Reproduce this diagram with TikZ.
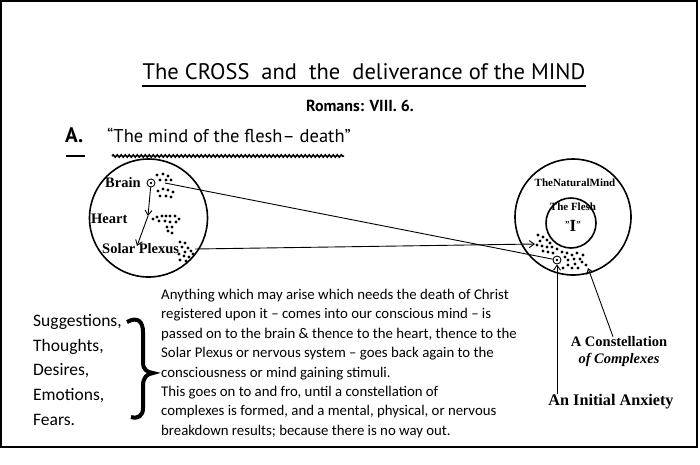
\documentclass[tikz,border=0pt]{standalone}
\usepackage{fontspec}
\setmainfont{Liberation Serif}
\newfontfamily\handfont{Carlito}
\newfontfamily\titlefont{PT Sans}
\usetikzlibrary{positioning,arrows.meta,decorations.pathmorphing}
\begin{document}
\begin{tikzpicture}
[
    x=1pt, y=-1pt,
    every node/.style={inner sep=0pt},
    lbl/.style={font=\bfseries\fontsize{14.5}{14.5}\selectfont},
    mind/.style={draw, circle, line width=1.6pt},
    link/.style={line width=0.9pt},
    tip/.style={-{Straight Barb[length=5pt,width=7pt]}},
    target/.style={draw, circle, line width=0.9pt, minimum size=8pt,
        path picture={\fill (path picture bounding box.center) circle (1.3pt);}},
]
\useasboundingbox (0,0) rectangle (700,464);
\draw[line width=1.6pt] (1,1) rectangle (697,447);
\node[font=\titlefont\fontsize{22.5}{22.5}\selectfont, anchor=base] (title) at (364,79)
    {The CROSS\ \ and\ \ the\ \ deliverance of the MIND};
\draw[line width=1.6pt] ([yshift=-7pt]title.base west) -- ([yshift=-7pt]title.base east);
\node[font=\titlefont\bfseries\fontsize{16}{16}\selectfont] (romans) at (360,106) {Romans: VIII. 6.};
\node[font=\titlefont\bfseries\fontsize{21}{21}\selectfont, anchor=base west] (secA) at (65,142) {A.};
\node[font=\titlefont\fontsize{18.5}{18.5}\selectfont, anchor=base west] (quote) at (107,142)
    {“The mind of the flesh– death”};
\draw[line width=1.6pt] (66,156) -- (85,156);
\draw[line width=1.5pt, decorate, decoration={snake, amplitude=1.2pt, segment length=4pt}] (112,156) -- (344,156);
\node[mind, minimum size=118pt] (body) at (148.5,218) {};
\node[lbl, anchor=west] (brain) at (105,183) {Brain};
\node[lbl, anchor=west] (heart) at (91,219) {Heart};
\node[lbl, anchor=west] (plexus) at (102,249) {Solar Plexus};
\node[target] (brainpt) at (151,183) {};
\coordinate (hrt) at (148,216);
\coordinate (plx) at (137,246);
\draw[link,tip] (brainpt) -- (hrt);
\draw[link,tip] (hrt) -- (plx);
\foreach \x/\y in {157/175, 163/174, 168/176, 160/180, 166/180, 171/180, 158/191, 163/189, 168/190,
    173/192, 160/196, 166/196, 171/197, 153/219, 157/217, 162/216, 166/216, 170/216, 175/216,
    179/219, 159/221, 165/221, 170/222, 176/222, 167/227, 172/227, 168/231, 172/233, 180/242,
    185/243, 182/247, 188/248, 185/252, 191/251, 179/254, 184/256, 189/257, 193/254, 180/260, 186/261}
    \fill (\x,\y) circle [radius=1.6pt];
\node[mind, minimum size=116pt] (natural) at (573,217) {};
\node[mind, minimum size=50pt] (flesh) at (571,223) {};
\node[font=\bfseries\fontsize{11}{11}\selectfont] (natlbl) at (575,183) {TheNaturalMind};
\node[font=\bfseries\fontsize{11}{11}\selectfont] (fleshlbl) at (573,207) {The Flesh};
\node[font=\bfseries\fontsize{17}{17}\selectfont] (ego) at (573,226)
    {{\fontsize{9}{9}\selectfont\raisebox{4pt}{\symbol{34}}}I{\fontsize{9}{9}\selectfont\raisebox{4pt}{\symbol{34}}}};
\node[target] (anxpt) at (557,260) {};
\foreach \x/\y in {538/235, 543/237, 540/241, 547/240, 550/243, 537/245, 542/246, 547/247, 552/247,
    557/249, 543/251, 548/252, 553/253, 562/252, 567/253, 565/257, 572/255, 577/253, 583/255,
    568/260, 574/259, 580/259, 568/265, 575/264, 582/262, 563/268, 572/268, 578/268, 586/265}
    \fill (\x,\y) circle [radius=1.6pt];
\coordinate (brainout) at (165,183);
\coordinate (plexout) at (195,249);
\coordinate (plexin) at (535,244);
\draw[link] (brainout) -- (anxpt);
\draw[link,tip] (plexout) -- (plexin);
\node[font=\bfseries\fontsize{14.5}{17}\selectfont, align=center] (constell) at (619,352)
    {A Constellation\\\itshape of Complexes};
\node[font=\bfseries\fontsize{16.2}{16.2}\selectfont] (anxiety) at (611,402) {An Initial Anxiety};
\coordinate (cplx) at (588,268);
\draw[link,tip] ([xshift=-6pt]constell.north) -- (cplx);
\draw[link,tip] (anxpt |- anxiety.north) -- (anxpt);
\node[font=\handfont\fontsize{17.5}{24.8}\selectfont, anchor=north west, align=left] (urges) at (33,314)
    {Suggestions,\\Thoughts,\\Desires,\\Emotions,\\Fears.};
\draw[line width=4pt] (127,322) .. controls (138,316) and (143,322) .. (143,332) -- (143,362)
    .. controls (143,370) and (147,372) .. (153,373) .. controls (147,374) and (143,377) .. (143,386)
    -- (143,408) .. controls (143,416) and (138,419) .. (131,417);
\node[font=\handfont\fontsize{14.8}{19.4}\selectfont, anchor=north west, align=left] (story) at (161,289)
    {Anything which may arise which needs the death of Christ\\
    registered upon it – comes into our conscious mind – is\\
    passed on to the brain \& thence to the heart, thence to the\\
    Solar Plexus or nervous system – goes back again to the\\
    consciousness or mind gaining stimuli.\\
    This goes on to and fro, until a constellation of\\
    complexes is formed, and a mental, physical, or nervous\\
    breakdown results; because there is no way out.};
\end{tikzpicture}
\end{document}
